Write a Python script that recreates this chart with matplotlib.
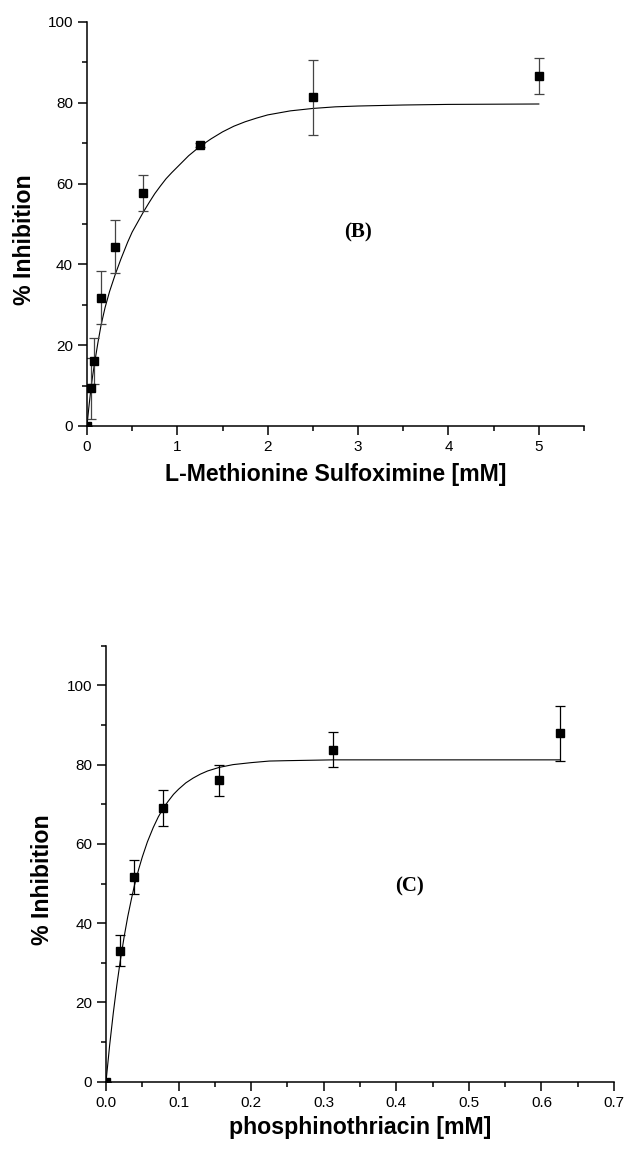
import matplotlib
matplotlib.use("Agg")
import matplotlib.pyplot as plt
from matplotlib.ticker import MultipleLocator, FormatStrFormatter

# panel B : L-Methionine Sulfoximine
b_conc = [0, 0.039, 0.078, 0.156, 0.3125, 0.625, 1.25, 2.5, 5.0]
b_inhib = [0, 9.3, 16.1, 31.8, 44.4, 57.7, 69.6, 81.4, 86.7]
b_err = [0, 7.6, 5.7, 6.6, 6.5, 4.4, 0.5, 9.3, 4.5]
# fitted curve
b_fit_x = [0, 0.02, 0.04, 0.06, 0.08, 0.12, 0.156, 0.2, 0.25, 0.3125, 0.375,
           0.45, 0.5, 0.5625, 0.625, 0.6875, 0.75, 0.8125, 0.875, 0.9375,
           1.0, 1.125, 1.25, 1.375, 1.5, 1.625, 1.75, 1.875, 2.0, 2.25,
           2.5, 2.75, 3.0, 3.5, 4.0, 4.5, 5.0]
b_fit_y = [0, 4.5, 8.5, 12, 15, 20.5, 25, 29.3, 33.3, 37.5, 41.3,
           45.5, 48, 50.5, 53, 55.3, 57.5, 59.4, 61.2, 62.7,
           64.1, 66.9, 69.2, 71.1, 72.8, 74.2, 75.3, 76.2, 77.0, 78.0,
           78.6, 79.0, 79.2, 79.45, 79.6, 79.65, 79.7]

# panel C : phosphinothriacin
c_conc = [0, 0.0195, 0.039, 0.078, 0.156, 0.3125, 0.625]
c_inhib = [0, 33.1, 51.7, 69.1, 76.0, 83.8, 87.9]
c_err = [0, 4.0, 4.3, 4.6, 3.8, 4.4, 7.0]
c_fit_x = [0, 0.005, 0.01, 0.015, 0.0195, 0.025, 0.03, 0.035, 0.039, 0.045,
           0.05, 0.057, 0.065, 0.072, 0.078, 0.085, 0.093, 0.1, 0.11, 0.12,
           0.13, 0.14, 0.156, 0.175, 0.2, 0.225, 0.25, 0.3125, 0.625]
c_fit_y = [0, 9.2, 17.3, 24.5, 30.3, 36.6, 41.7, 46.1, 49.4, 53.6,
           56.7, 60.5, 64.1, 66.8, 68.7, 70.6, 72.5, 73.8, 75.4, 76.6,
           77.6, 78.4, 79.3, 80.0, 80.5, 80.9, 81.0, 81.2, 81.2]

plt.rcParams['font.family'] = ['Liberation Sans', 'DejaVu Sans']

fig = plt.figure(figsize=(6.24, 11.51), dpi=100)
axB = fig.add_axes([0.1394, 0.6299, 0.7965, 0.351])
axC = fig.add_axes([0.1699, 0.0602, 0.8141, 0.3788])


def style(ax, xmaj, xmin_, ymaj, ymin_):
    for s in ['top', 'right']:
        ax.spines[s].set_visible(False)
    for s in ['left', 'bottom']:
        ax.spines[s].set_linewidth(1.1)
    ax.xaxis.set_major_locator(MultipleLocator(xmaj))
    ax.xaxis.set_minor_locator(MultipleLocator(xmin_))
    ax.yaxis.set_major_locator(MultipleLocator(ymaj))
    ax.yaxis.set_minor_locator(MultipleLocator(ymin_))
    ax.tick_params(which='major', direction='out', length=6.5, width=1.1,
                   labelsize=11, pad=3.5)
    ax.tick_params(which='minor', direction='out', length=3.6, width=1.1)


# B
axB.plot(b_fit_x, b_fit_y, color='black', lw=0.8)
axB.errorbar(b_conc, b_inhib, yerr=b_err, fmt='s', color='black', ms=6,
             ecolor='#444444', elinewidth=0.9, capsize=3.3, capthick=0.9)
axB.set_xlim(0, 5.5)
axB.set_ylim(0, 100)
style(axB, 1, 0.5, 20, 10)
axB.set_xlabel('L-Methionine Sulfoximine [mM]', fontsize=16.7, fontweight='bold')
axB.set_ylabel('% Inhibition', fontsize=16.7, fontweight='bold')
axB.xaxis.label.set_va('center')
axB.yaxis.label.set_va('center')
axB.xaxis.set_label_coords(0.5, -0.121)
axB.yaxis.set_label_coords(-0.125, 0.46)
axB.text(3.0, 48, '(B)', family='Liberation Serif', fontweight='bold',
         fontsize=15, ha='center', va='center')

# C
axC.plot(c_fit_x, c_fit_y, color='black', lw=0.8)
axC.errorbar(c_conc, c_inhib, yerr=c_err, fmt='s', color='black', ms=6,
             ecolor='black', elinewidth=0.9, capsize=3.3, capthick=0.9)
axC.set_xlim(0, 0.7)
axC.set_ylim(0, 110)
style(axC, 0.1, 0.05, 20, 10)
axC.xaxis.set_major_formatter(FormatStrFormatter('%.1f'))
axC.set_xlabel('phosphinothriacin [mM]', fontsize=16.7, fontweight='bold')
axC.set_ylabel('% Inhibition', fontsize=16.7, fontweight='bold')
axC.xaxis.label.set_va('center')
axC.yaxis.label.set_va('center')
axC.xaxis.set_label_coords(0.5, -0.104)
axC.yaxis.set_label_coords(-0.126, 0.463)
axC.text(0.418, 49.3, '(C)', family='Liberation Serif', fontweight='bold',
         fontsize=15, ha='center', va='center')

fig.savefig('out.png', dpi=100)
